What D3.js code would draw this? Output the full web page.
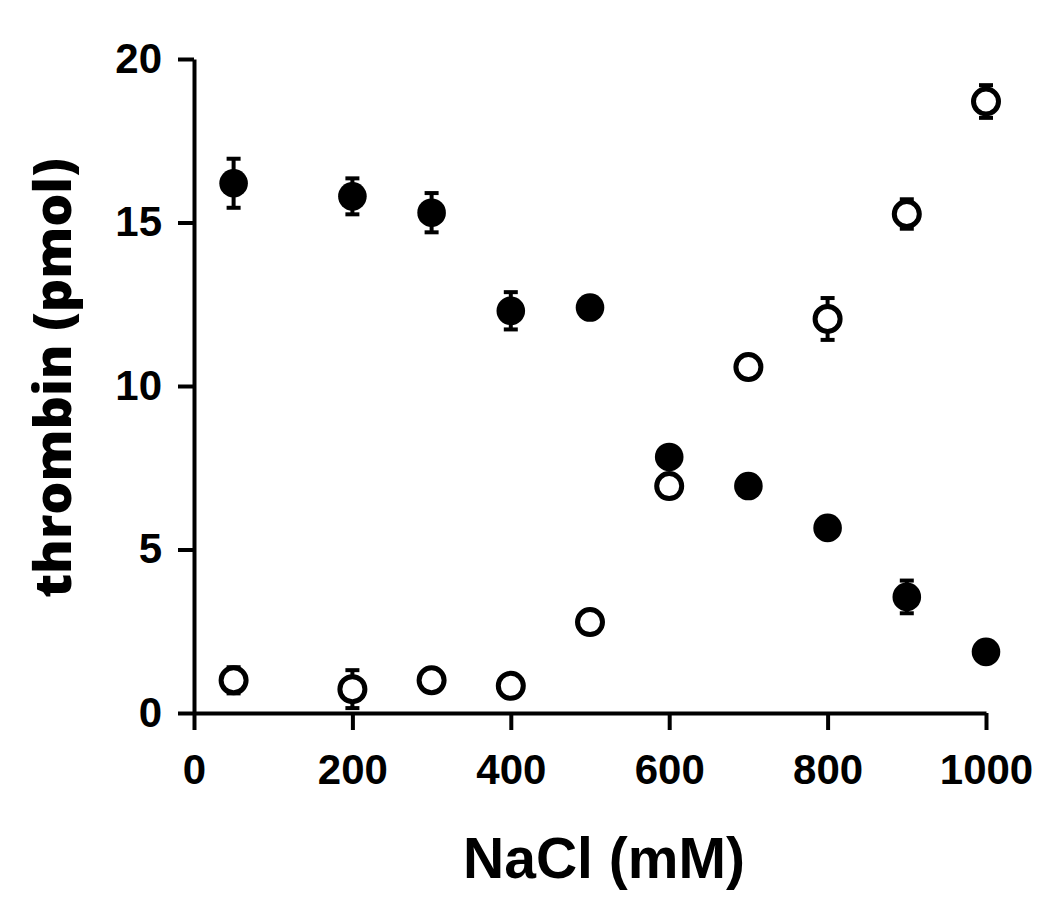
<!DOCTYPE html>
<html>
<head>
<meta charset="utf-8">
<script src="https://cdn.jsdelivr.net/npm/d3@7"></script>
<style>
  body { margin: 0; background: #fff; }
</style>
</head>
<body>
<svg id="chart" width="1050" height="908"></svg>
<script>
const nacl = [50, 200, 300, 400, 500, 600, 700, 800, 900, 1000]
// filled circles
const bound = [16.2, 15.8, 15.3, 12.3, 12.4, 7.83, 6.94, 5.66, 3.55, 1.87]
const boundErr = [0.75, 0.55, 0.6, 0.57, 0.3, 0.3, 0.2, 0.2, 0.5, 0.2]
// open circles
const eluted = [1.0, 0.73, 1.0, 0.83, 2.78, 6.94, 10.58, 12.05, 15.26, 18.7]
const elutedErr = [0.4, 0.58, 0.3, 0.3, 0.3, 0.3, 0.3, 0.64, 0.45, 0.5]

const xTicks = [0, 200, 400, 600, 800, 1000]
const yTicks = [0, 5, 10, 15, 20]

const svg = d3.select("#chart")

const x = d3.scaleLinear().domain([0, 1000]).range([194, 986])
const y = d3.scaleLinear().domain([0, 20]).range([713, 59])

const tickFont = "'Liberation Sans', Arial, sans-serif"

// x axis
const gx = svg.append("g")
  .attr("transform", "translate(0," + y(0) + ")")
  .call(d3.axisBottom(x).tickValues(xTicks).tickFormat(d3.format("d"))
    .tickSize(17).tickSizeOuter(0).tickPadding(24))
// y axis
const gy = svg.append("g")
  .attr("transform", "translate(" + x(0) + ",0)")
  .call(d3.axisLeft(y).tickValues(yTicks).tickFormat(d3.format("d"))
    .tickSize(16).tickSizeOuter(0).tickPadding(16))

for (const g of [gx, gy]) {
  g.select(".domain").attr("stroke", "black").attr("stroke-width", 4)
  g.selectAll(".tick line").attr("stroke", "black").attr("stroke-width", 4)
  g.selectAll(".tick text")
    .attr("fill", "black")
    .style("font-family", tickFont)
    .style("font-weight", "bold")
    .style("font-size", "42px")
}
gx.selectAll(".tick text").attr("dy", "0.71em")

// axis titles
svg.append("text")
  .attr("x", 604)
  .attr("y", 878)
  .attr("text-anchor", "middle")
  .style("font-family", tickFont)
  .style("font-weight", "bold")
  .style("font-size", "57px")
  .text("NaCl (mM)")

svg.append("text")
  .attr("transform", "translate(71,378) rotate(-90)")
  .attr("text-anchor", "middle")
  .style("font-family", "'Open Sans', sans-serif")
  .style("font-weight", "800")
  .style("font-size", "52px")
  .text("thrombin (pmol)")

function drawSeries(values, errs, filled) {
  const rows = nacl.map((n, i) => ({ n: n, v: values[i], e: errs[i] }))
  const g = svg.append("g")
  // error bars first so open markers hide them inside
  const eb = g.selectAll(".err").data(rows).enter().append("g")
  eb.append("line")
    .attr("x1", d => x(d.n)).attr("x2", d => x(d.n))
    .attr("y1", d => y(d.v + d.e)).attr("y2", d => y(d.v - d.e))
    .attr("stroke", "black").attr("stroke-width", 4)
  eb.append("line")
    .attr("x1", d => x(d.n) - 7).attr("x2", d => x(d.n) + 7)
    .attr("y1", d => y(d.v + d.e)).attr("y2", d => y(d.v + d.e))
    .attr("stroke", "black").attr("stroke-width", 4)
  eb.append("line")
    .attr("x1", d => x(d.n) - 7).attr("x2", d => x(d.n) + 7)
    .attr("y1", d => y(d.v - d.e)).attr("y2", d => y(d.v - d.e))
    .attr("stroke", "black").attr("stroke-width", 4)

  g.selectAll("circle").data(rows).enter().append("circle")
    .attr("cx", d => x(d.n))
    .attr("cy", d => y(d.v))
    .attr("r", filled ? 14.3 : 12.5)
    .attr("fill", filled ? "black" : "white")
    .attr("stroke", filled ? "none" : "black")
    .attr("stroke-width", 5)
}

drawSeries(eluted, elutedErr, false)
drawSeries(bound, boundErr, true)
</script>
</body>
</html>
